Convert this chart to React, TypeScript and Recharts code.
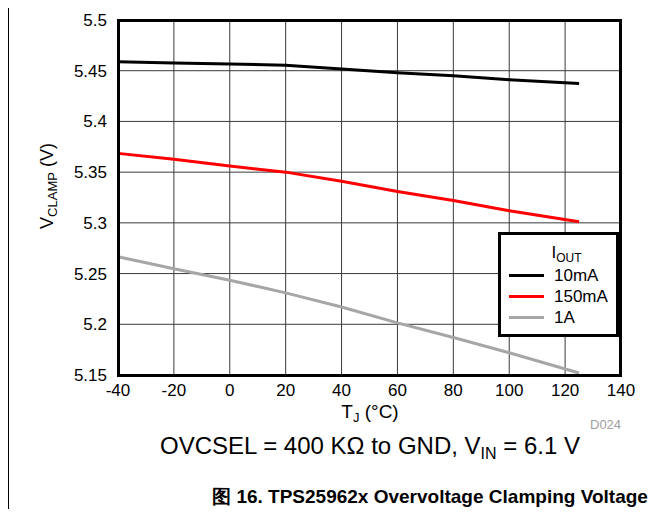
import React from 'react';
import { CartesianGrid, Line, LineChart, XAxis, YAxis } from 'recharts';

// junction temperature (°C)
const temps = [-40, -20, 0, 20, 40, 60, 80, 100, 125];

// clamp voltage (V) per output current
const v10mA = [5.4588, 5.4575, 5.4565, 5.4555, 5.4516, 5.448, 5.445, 5.441, 5.4374];
const v150mA = [5.3685, 5.3626, 5.356, 5.35, 5.341, 5.331, 5.322, 5.312, 5.301];
const v1A = [5.2666, 5.2547, 5.2435, 5.231, 5.217, 5.2014, 5.187, 5.172, 5.152];

const xTicks = [-40, -20, 0, 20, 40, 60, 80, 100, 120, 140];
const yTicks = [5.15, 5.2, 5.25, 5.3, 5.35, 5.4, 5.45, 5.5];

const series = [
  { key: 'i10', label: '10mA', color: '#000000' },
  { key: 'i150', label: '150mA', color: '#ff0000' },
  { key: 'i1', label: '1A', color: '#a6a6a6' },
];

const data = temps.map((t, i) => ({ t, i10: v10mA[i], i150: v150mA[i], i1: v1A[i] }));

const FONT = 'Arial, "Liberation Sans", Helvetica, sans-serif';

const abs = (s: React.CSSProperties): React.CSSProperties => ({ position: 'absolute', fontFamily: FONT, color: '#000', ...s });

const LegendBox = () => (
  <div style={abs({ left: 498, top: 232, width: 115, height: 99, border: '3px solid #000', background: '#fff', fontSize: 17 })}>
    <div style={{ textAlign: 'center', marginTop: 8, height: 22, lineHeight: '20px', paddingLeft: 16 }}>
      I<sub style={{ fontSize: 12, verticalAlign: '-4px' }}>OUT</sub>
    </div>
    {series.map(s => (
      <div key={s.key} style={{ display: 'flex', alignItems: 'center', height: 21 }}>
        <span style={{ width: 35, height: 3, background: s.color, marginLeft: 8, marginRight: 10 }} />
        <span>{s.label}</span>
      </div>
    ))}
  </div>
);

export default function App() {
  return (
    <div style={{ position: 'relative', margin: -8, width: 671, height: 517 }}>
      <LineChart width={671} height={517} data={data} margin={{ top: 20, right: 50, bottom: 112, left: 0 }}>
        <CartesianGrid stroke="#3a3a3a" />
        <XAxis
          type="number"
          dataKey="t"
          domain={[-40, 140]}
          ticks={xTicks}
          interval={0}
          height={30}
          tickSize={0}
          tickMargin={9}
          axisLine={false}
          tick={{ fontSize: 17, fill: '#000', fontFamily: FONT }}
        />
        <YAxis
          type="number"
          domain={[5.15, 5.5]}
          ticks={yTicks}
          interval={0}
          width={118}
          tickSize={0}
          tickMargin={11}
          axisLine={false}
          tick={{ fontSize: 17, fill: '#000', fontFamily: FONT }}
        />
        {series.map(s => (
          <Line
            key={s.key}
            dataKey={s.key}
            stroke={s.color}
            strokeWidth={3}
            dot={false}
            type="linear"
            isAnimationActive={false}
          />
        ))}
      </LineChart>
      {/* plot frame */}
      <div style={abs({ left: 117, top: 19, width: 505, height: 358, border: '3px solid #000', boxSizing: 'border-box', pointerEvents: 'none' })} />
      {/* outer frame (top + left) */}
      <div style={abs({ left: 7, top: 6, width: 664, height: 2, background: '#000' })} />
      <div style={abs({ left: 7, top: 6, width: 2, height: 511, background: '#000' })} />
      {/* axis titles */}
      <div style={abs({ left: -53, top: 174, width: 200, height: 24, lineHeight: '24px', textAlign: 'center', fontSize: 18, transform: 'rotate(-90deg)' })}>
        V<sub style={{ fontSize: 13, verticalAlign: '-4px' }}>CLAMP</sub> (V)
      </div>
      <div style={abs({ left: 270, top: 401, width: 200, textAlign: 'center', fontSize: 19 })}>
        T<sub style={{ fontSize: 13, verticalAlign: '-4px' }}>J</sub> (°C)
      </div>
      <LegendBox />
      <div style={abs({ left: 590, top: 417, fontSize: 13, color: '#a0a0a0' })}>D024</div>
      <div style={abs({ left: 0, width: 740, top: 432, textAlign: 'center', fontSize: 24 })}>
        OVCSEL = 400 KΩ to GND, V<sub style={{ fontSize: 16, verticalAlign: '-5px' }}>IN</sub> = 6.1 V
      </div>
      <div style={abs({ left: 0, width: 860, top: 484, textAlign: 'center', fontSize: 19, fontWeight: 'bold' })}>
        图 16. TPS25962x Overvoltage Clamping Voltage
      </div>
    </div>
  );
}
